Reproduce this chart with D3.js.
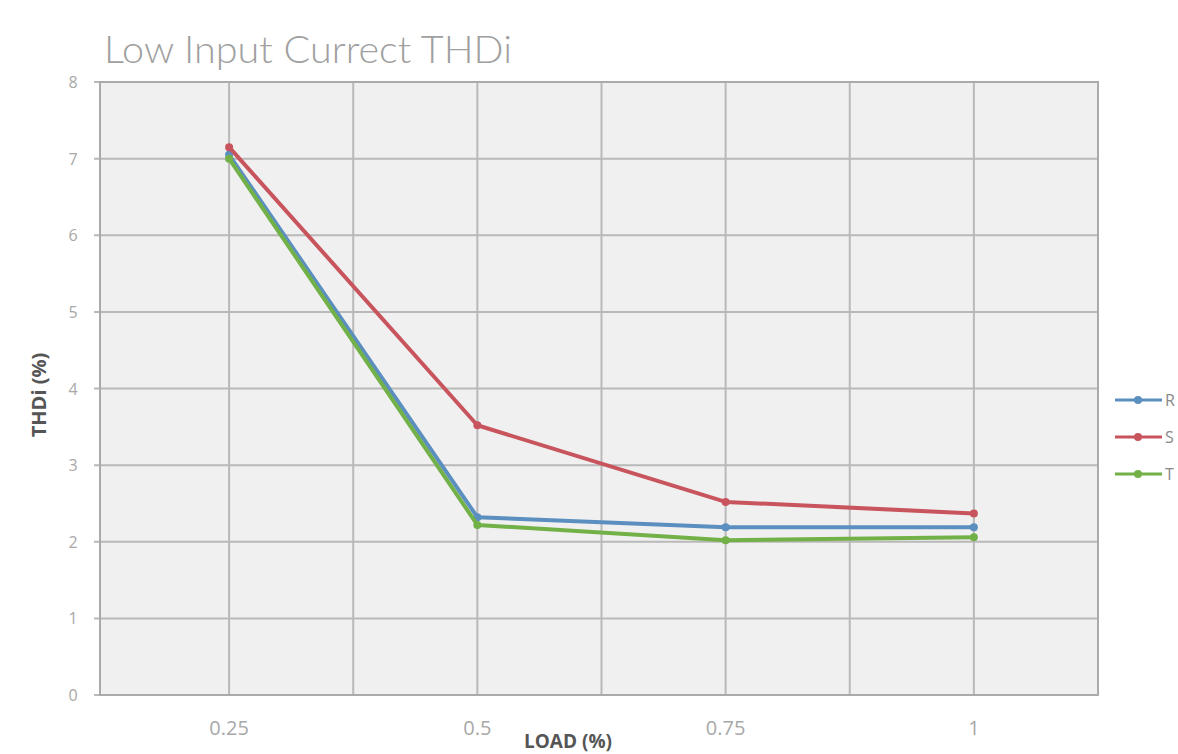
<!DOCTYPE html>
<html><head><meta charset="utf-8">
<script src="https://cdn.jsdelivr.net/npm/d3@7"></script>
<style>body{margin:0;background:#fff;overflow:hidden}svg{display:block}</style>
</head><body>
<svg id="c" width="1178" height="754"></svg>
<script>
const loads = [0.25, 0.5, 0.75, 1];
const seriesNames = ["R", "S", "T"];
const valuesR = [7.05, 2.32, 2.19, 2.19];
const valuesS = [7.15, 3.52, 2.52, 2.37];
const valuesT = [7.0, 2.22, 2.02, 2.06];
const colors = ["#5a8fc0", "#c8555e", "#72b048"];
const xTickLabels = ["0.25", "0.5", "0.75", "1"];
const yTicks = [0,1,2,3,4,5,6,7,8];

const svg = d3.select("#c");
const m = {l:100, r:1098, t:82, b:695};
const x = d3.scaleLinear().domain([0.12, 1.125]).range([m.l, m.r]);
const y = d3.scaleLinear().domain([0, 8]).range([m.b, m.t]);

svg.append("rect").attr("x",m.l).attr("y",m.t).attr("width",m.r-m.l).attr("height",m.b-m.t).attr("fill","#f0f0f0");

const gridX = d3.range(0.25, 1.126, 0.125);
svg.append("g").selectAll("line").data(gridX).join("line")
  .attr("x1",d=>x(d)).attr("x2",d=>x(d)).attr("y1",m.t).attr("y2",m.b)
  .attr("stroke","#b9b9b9").attr("stroke-width",2);
svg.append("g").selectAll("line").data(yTicks).join("line")
  .attr("x1",m.l-6).attr("x2",m.r).attr("y1",d=>y(d)).attr("y2",d=>y(d))
  .attr("stroke","#b9b9b9").attr("stroke-width",2);
svg.append("rect").attr("x",m.l).attr("y",m.t).attr("width",m.r-m.l).attr("height",m.b-m.t)
  .attr("fill","none").attr("stroke","#aaaaaa").attr("stroke-width",2);

svg.append("g").selectAll("text").data(yTicks).join("text")
  .attr("x",73).attr("y",d=>y(d)+6).attr("text-anchor","middle")
  .attr("font-family","Open Sans, sans-serif").attr("font-size",16).attr("fill","#a8a8a8")
  .text(d=>d);
svg.append("g").selectAll("text").data(loads).join("text")
  .attr("x",d=>x(d)).attr("y",735).attr("text-anchor","middle")
  .attr("font-family","Open Sans, sans-serif").attr("font-size",20).attr("fill","#a8a8a8")
  .text((d,i)=>xTickLabels[i]);

svg.append("text").attr("x",104).attr("y",63).attr("font-family","Lato, Open Sans, sans-serif")
  .attr("font-weight",300).attr("font-size",38).attr("fill","#a0a0a0")
  .attr("textLength",408).attr("lengthAdjust","spacingAndGlyphs").text("Low Input Currect THDi");
svg.append("text").attr("transform","translate(46,395) rotate(-90)").attr("text-anchor","middle")
  .attr("font-family","Open Sans, sans-serif").attr("font-weight",700).attr("font-size",20).attr("fill","#555")
  .text("THDi (%)");
svg.append("text").attr("x",568).attr("y",748).attr("text-anchor","middle")
  .attr("font-family","Open Sans, sans-serif").attr("font-weight",700).attr("font-size",19).attr("fill","#555")
  .text("LOAD (%)");

const all = [valuesR, valuesS, valuesT];
const line = d3.line().x((d,i)=>x(loads[i])).y(d=>y(d));
all.forEach((vals, k) => {
  const g = svg.append("g");
  g.append("path").datum(vals).attr("d",line).attr("fill","none")
    .attr("stroke",colors[k]).attr("stroke-width",4).attr("stroke-linejoin","round").attr("stroke-linecap","round");
  g.selectAll("circle").data(vals).join("circle")
    .attr("cx",(d,i)=>x(loads[i])).attr("cy",d=>y(d)).attr("r",4).attr("fill",colors[k]);
});

const lg = svg.append("g");
seriesNames.forEach((n,k)=>{
  const yy = 400 + k*37;
  lg.append("line").attr("x1",1115).attr("x2",1162).attr("y1",yy).attr("y2",yy)
    .attr("stroke",colors[k]).attr("stroke-width",3);
  lg.append("circle").attr("cx",1138).attr("cy",yy).attr("r",4).attr("fill",colors[k]);
  lg.append("text").attr("x",1165).attr("y",yy+6).attr("font-family","Open Sans, sans-serif")
    .attr("font-size",16).attr("fill","#888").text(n);
});
</script>
</body></html>
